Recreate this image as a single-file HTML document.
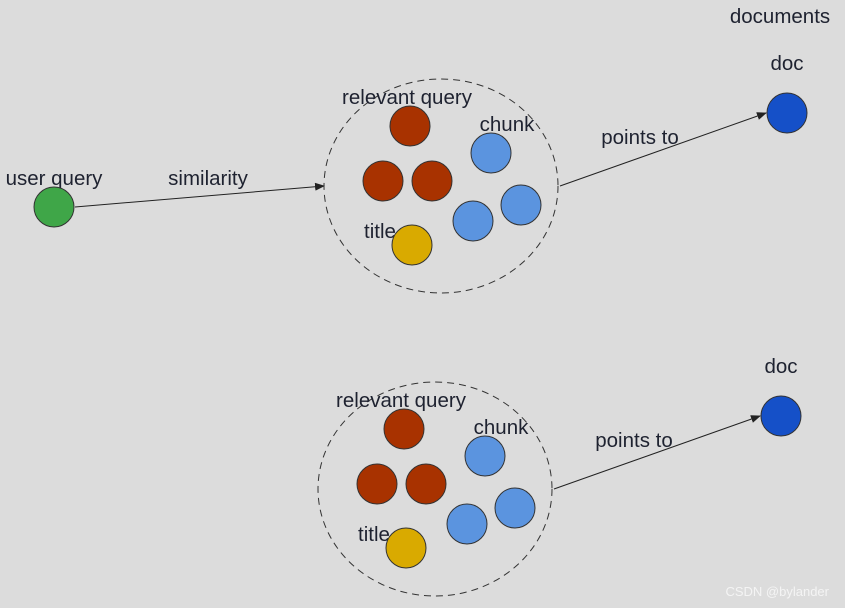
<!DOCTYPE html>
<html><head><meta charset="utf-8"><style>
html,body{margin:0;padding:0;background:#dcdcdc;}
svg{display:block}
text{font-family:"Liberation Sans",sans-serif;fill:#1e2230;}
</style></head><body>
<svg width="845" height="608" viewBox="0 0 845 608" xmlns="http://www.w3.org/2000/svg">
<defs>
<marker id="a" markerWidth="10" markerHeight="8" refX="9" refY="4" orient="auto" markerUnits="userSpaceOnUse">
<path d="M0,0 L10,4 L0,8 Z" fill="#222"/></marker>
</defs>
<rect width="845" height="608" fill="#dcdcdc"/>
<text x="780" y="23" font-size="20.5" text-anchor="middle">documents</text>
<text x="54" y="185" font-size="20.5" text-anchor="middle">user query</text>
<text x="208" y="185" font-size="20.5" text-anchor="middle">similarity</text>
<circle cx="54" cy="207" r="20" fill="#3fa648" stroke="#333" stroke-width="1"/>
<line x1="75" y1="207" x2="324" y2="186" stroke="#222" stroke-width="1" marker-end="url(#a)"/>

<g id="grp">
<ellipse cx="441" cy="186" rx="117" ry="107" fill="none" stroke="#333" stroke-width="1" stroke-dasharray="7,5"/>
<text x="407" y="104" font-size="20.5" text-anchor="middle">relevant query</text>
<text x="507" y="131" font-size="20.5" text-anchor="middle">chunk</text>
<text x="380" y="238" font-size="20.5" text-anchor="middle">title</text>
<g stroke="#333" stroke-width="1">
<circle cx="410" cy="126" r="20" fill="#a83200"/>
<circle cx="383" cy="181" r="20" fill="#a83200"/>
<circle cx="432" cy="181" r="20" fill="#a83200"/>
<circle cx="491" cy="153" r="20" fill="#5b94df"/>
<circle cx="521" cy="205" r="20" fill="#5b94df"/>
<circle cx="473" cy="221" r="20" fill="#5b94df"/>
<circle cx="412" cy="245" r="20" fill="#d9aa00"/>
</g>
<line x1="560" y1="186" x2="766" y2="113" stroke="#222" stroke-width="1" marker-end="url(#a)"/>
<text x="640" y="144" font-size="20.5" text-anchor="middle">points to</text>
<circle cx="787" cy="113" r="20" fill="#1550c8" stroke="#333" stroke-width="1"/>
<text x="787" y="70" font-size="20.5" text-anchor="middle">doc</text>
</g>
<use href="#grp" transform="translate(-6,303)"/>
<text x="829" y="596" font-size="13" text-anchor="end" style="fill:#f4f4f4">CSDN @bylander</text>
</svg>
</body></html>
